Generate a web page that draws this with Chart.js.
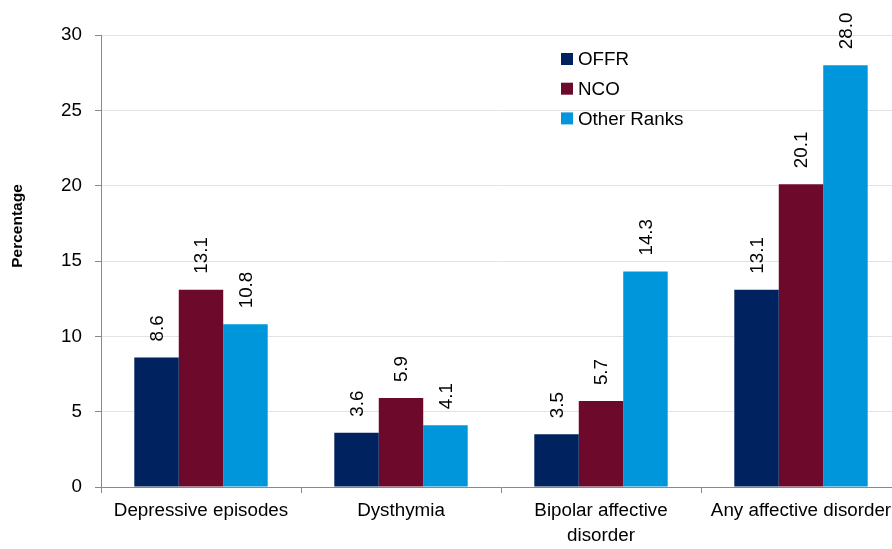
<!DOCTYPE html>
<html>
<head>
<meta charset="utf-8">
<script src="https://cdn.jsdelivr.net/npm/chart.js@4.4.1/dist/chart.umd.min.js"></script>
<style>
	html, body { margin: 0; padding: 0; background: #fff; overflow: hidden; }
	#wrap { width: 905px; height: 549px; }
</style>
</head>
<body>
<div id="wrap"><canvas id="myChart" width="905" height="549"></canvas></div>
<script>
'use strict';

// values
const categories = ['Depressive episodes', 'Dysthymia', ['Bipolar affective', 'disorder'], 'Any affective disorder'];
const seriesNames = ['OFFR', 'NCO', 'Other Ranks'];
const offr        = [8.6, 3.6, 3.5, 13.1];
const nco         = [13.1, 5.9, 5.7, 20.1];
const otherRanks  = [10.8, 4.1, 14.3, 28.0];
const yMin = 0, yMax = 30, yStep = 5;

const colors   = ['#00235F', '#6D0A2B', '#0096DC'];
const FAMILY   = '"Liberation Sans", Arial, sans-serif';
const SIZE     = 18.8;
const FONT     = SIZE + 'px ' + FAMILY;
const axisGrey = '#898989';

// rotated value labels, legend inside the plot and the y title
const extras = {
	id: 'extras',
	afterDatasetsDraw(chart) {
		const ctx = chart.ctx;
		const area = chart.chartArea;
		ctx.save();
		ctx.font = FONT;
		ctx.fillStyle = '#000';
		ctx.textAlign = 'left';
		ctx.textBaseline = 'middle';
		chart.data.datasets.forEach(function (ds, i) {
			chart.getDatasetMeta(i).data.forEach(function (bar, j) {
				ctx.save();
				ctx.translate(bar.x + 1, bar.y - 16);
				ctx.rotate(-Math.PI / 2);
				ctx.fillText(ds.data[j].toFixed(1), 0, 0);
				ctx.restore();
			});
		});

		// legend
		let lx = area.left + 460, ly = area.top + 24;
		chart.data.datasets.forEach(function (ds, i) {
			let y = ly + i * 29.7;
			ctx.fillStyle = ds.backgroundColor;
			ctx.fillRect(lx, y - 6, 12, 12);
			ctx.fillStyle = '#000';
			ctx.fillText(ds.label, lx + 17, y + 1);
		});

		// y axis title
		ctx.save();
		ctx.translate(18, area.top + 191);
		ctx.rotate(-Math.PI / 2);
		ctx.font = 'bold 15.5px ' + FAMILY;
		ctx.textAlign = 'center';
		ctx.fillText('Percentage', 0, 0);
		ctx.restore();
		ctx.restore();
	}
};

let ctx = document.getElementById('myChart').getContext('2d');
let data = {
	labels  : categories,
	datasets: [offr, nco, otherRanks].map(function (vals, i) {
		return {
			label             : seriesNames[i],
			data              : vals,
			backgroundColor   : colors[i],
			borderWidth       : 0,
			barPercentage     : 1,
			categoryPercentage: 0.667
		};
	})
};

let myChart = new Chart(ctx, {
	type   : 'bar',
	data   : data,
	plugins: [extras],
	options: {
		responsive         : false,
		animation          : false,
		devicePixelRatio   : 1,
		layout             : { padding: { left: 0, top: 35, right: 4, bottom: 0 } },
		plugins            : { legend: { display: false }, tooltip: { enabled: false } },
		scales: {
			x: {
				afterFit: function (s) { s.height = 62; },
				grid    : { offset: true, drawOnChartArea: false, color: axisGrey, tickLength: 6, lineWidth: 1 },
				border  : { color: axisGrey, width: 1 },
				ticks   : { color: '#000', font: { family: FAMILY, size: SIZE, lineHeight: 1.3 }, padding: 6, maxRotation: 0, autoSkip: false }
			},
			y: {
				min     : yMin,
				max     : yMax,
				afterFit: function (s) { s.width = 101; },
				grid    : { color: '#e3e3e3', tickColor: axisGrey, tickLength: 6, lineWidth: 1 },
				border  : { color: axisGrey, width: 1 },
				ticks   : { stepSize: yStep, color: '#000', font: { family: FAMILY, size: SIZE }, padding: 13 }
			}
		}
	}
});
</script>
</body>
</html>
